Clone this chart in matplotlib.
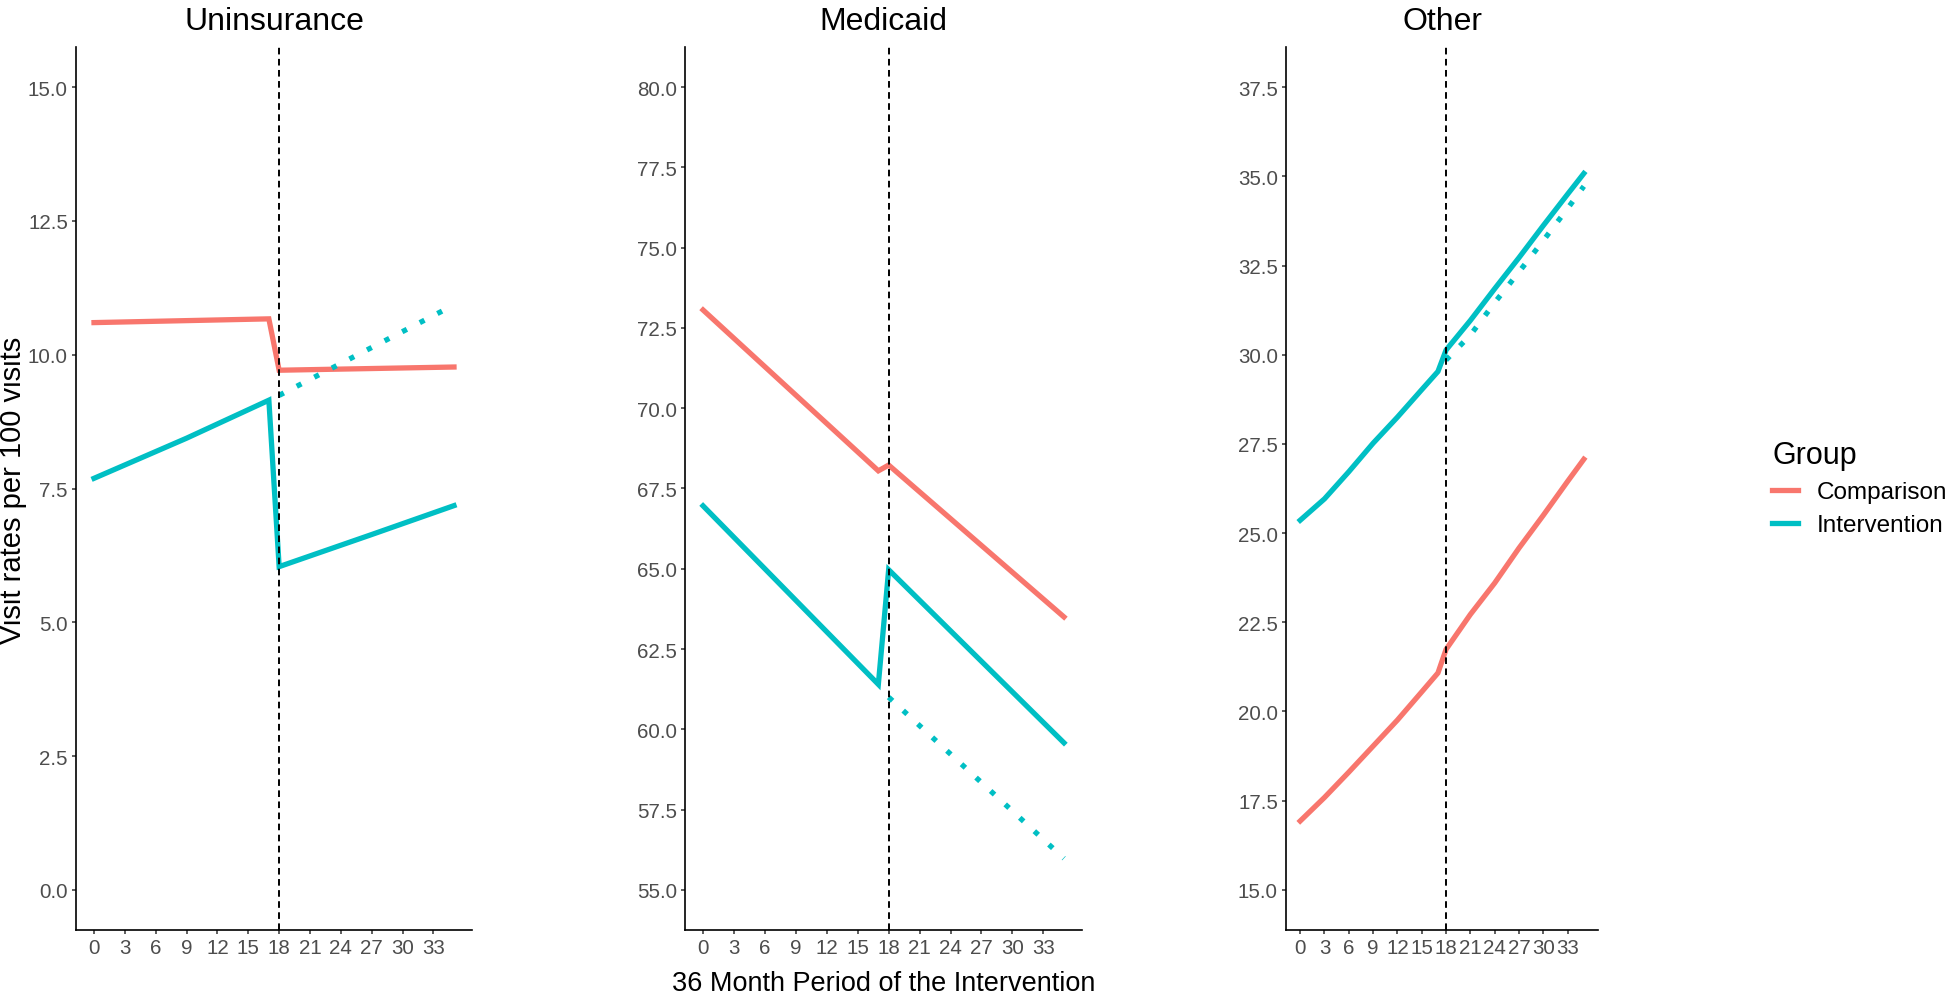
import matplotlib
matplotlib.use("Agg")
import matplotlib.pyplot as plt
import numpy as np

plt.rcParams['font.family'] = ['Liberation Sans', 'DejaVu Sans']

# ---- data ----
months = list(range(0, 34, 3))
group_names = ['Comparison', 'Intervention']
panel_titles = ['Uninsurance', 'Medicaid', 'Other']

# Uninsurance
unins_comp_t = [0, 17, 18, 35]
unins_comp = [10.60, 10.67, 9.71, 9.77]
unins_int_t = [0, 9, 17, 18, 27, 35]
unins_int = [7.69, 8.44, 9.15, 6.04, 6.64, 7.18]
unins_cf_t = [18, 35]
unins_cf = [9.24, 10.93]

# Medicaid
medic_comp_t = [0, 17, 18, 35]
medic_comp = [73.06, 68.05, 68.23, 63.50]
medic_int_t = [0, 17, 18, 35]
medic_int = [66.96, 61.40, 64.97, 59.58]
medic_cf_t = [18, 35]
medic_cf = [61.00, 55.98]

# Other
other_t = [0, 3, 6, 9, 12, 15, 17, 18, 21, 24, 27, 30, 33, 35]
other_comp = [16.93, 17.59, 18.30, 19.03, 19.76, 20.55, 21.08,
              21.74, 22.72, 23.60, 24.58, 25.50, 26.45, 27.07]
other_int = [25.36, 25.96, 26.72, 27.52, 28.25, 29.02, 29.53,
             30.13, 30.96, 31.85, 32.72, 33.62, 34.50, 35.08]
other_cf_t = [18, 21, 24, 27, 30, 33, 35]
other_cf = [29.85, 30.55, 31.46, 32.32, 33.20, 34.10, 34.72]

y_ticks = [np.arange(0, 15.01, 2.5), np.arange(55, 80.01, 2.5), np.arange(15, 37.51, 2.5)]
y_limits = [(0, 15), (55, 80), (15, 37.5)]

col_comp = '#F8766D'
col_int = '#00BFC4'

panels = [
    (unins_comp_t, unins_comp, unins_int_t, unins_int, unins_cf_t, unins_cf),
    (medic_comp_t, medic_comp, medic_int_t, medic_int, medic_cf_t, medic_cf),
    (other_t, other_comp, other_t, other_int, other_cf_t, other_cf),
]

W, H = 1946, 995
fig = plt.figure(figsize=(W / 100, H / 100), dpi=100)

# axes boxes in pixels: left, right
boxes = [(76, 472), (685, 1082), (1286, 1598)]
top_px, bot_px = 48, 931

handles = []
for i, (box, data) in enumerate(zip(boxes, panels)):
    l, r = box
    ax = fig.add_axes([l / W, (H - bot_px) / H, (r - l) / W, (bot_px - top_px) / H])
    ct, cv, it, iv, ft, fv = data
    h1, = ax.plot(ct, cv, color=col_comp, lw=3.8, solid_joinstyle='miter')
    h2, = ax.plot(it, iv, color=col_int, lw=3.8, solid_joinstyle='miter')
    ax.plot(ft, fv, color=col_int, lw=3.8, linestyle=(0, (1, 2.75)))
    ax.axvline(18, color='black', lw=1.4, linestyle=(0, (3.4, 2.3)), zorder=5)
    if i == 0:
        handles = [h1, h2]

    lo, hi = y_limits[i]
    pad = (hi - lo) * 0.05
    ax.set_ylim(lo - pad, hi + pad)
    ax.set_xlim(-1.75, 36.75)
    ax.set_xticks(months)
    ax.set_yticks(y_ticks[i])
    ax.set_yticklabels([f'{v:.1f}' for v in y_ticks[i]])

    for s in ['top', 'right']:
        ax.spines[s].set_visible(False)
    for s in ['left', 'bottom']:
        ax.spines[s].set_linewidth(1.2)
        ax.spines[s].set_color('black')
    ax.tick_params(axis='both', length=3, width=1.1, color='#333333',
                   labelcolor='#4D4D4D', labelsize=14.8, pad=2.8)

    fig.text((l + r) / 2 / W, 1 - 29.5 / H, panel_titles[i], ha='center',
             va='baseline', fontsize=23)

fig.text(883.5 / W, 1 - 991 / H, '36 Month Period of the Intervention',
         ha='center', va='baseline', fontsize=19.5)
fig.text(13 / W, 1 - 490 / H, 'Visit rates per 100 visits', rotation=90,
         ha='center', va='center', fontsize=21)

leg = fig.legend(handles, group_names, title='Group', loc='upper left',
                 bbox_to_anchor=(1760 / W, 1 - 429 / H), frameon=False,
                 fontsize=17.5, title_fontsize=22, handlelength=1.05,
                 handletextpad=0.8, labelspacing=0.45, borderpad=0,
                 alignment='left')

fig.savefig('out.png', dpi=100)
